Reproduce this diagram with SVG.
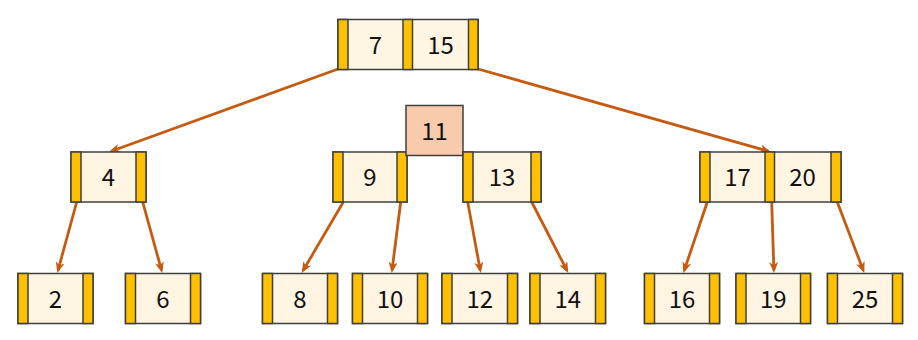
<svg xmlns="http://www.w3.org/2000/svg" width="918" height="340" viewBox="0 0 918 340">
<defs>
<style>
.box{fill:#FFF5E2;stroke:#3F3F3F;stroke-width:1.5}
.ptr{fill:#FFC000;stroke:#3F3F3F;stroke-width:1.5}
.hl{fill:#F8CBAD;stroke:#3F3F3F;stroke-width:1.5}
.edge{stroke:#C55A11;stroke-width:2.8;fill:none;marker-end:url(#ah)}
text{font-family:"Noto Sans CJK KR","Noto Sans",sans-serif;font-size:24px;fill:#111;text-anchor:middle}
</style>
<marker id="ah" markerUnits="userSpaceOnUse" markerWidth="12" markerHeight="10" refX="8" refY="4.5" orient="auto">
<path d="M0,0 L11,4.5 L0,9 L3,4.5 z" fill="#C55A11"/>
</marker>
</defs>
<rect width="918" height="340" fill="#fff"/>
<g id="connectors">
<line class="edge" x1="338" y1="69" x2="111.8" y2="151"/>
<line class="edge" x1="478" y1="69" x2="768.1" y2="151.2"/>
<line class="edge" x1="76.7" y1="202" x2="58.1" y2="270.1"/>
<line class="edge" x1="142.7" y1="202" x2="161.5" y2="270.1"/>
<line class="edge" x1="343.3" y1="202" x2="303.2" y2="270.4"/>
<line class="edge" x1="400.7" y1="202" x2="392.1" y2="270"/>
<line class="edge" x1="467.7" y1="202" x2="480.2" y2="270.1"/>
<line class="edge" x1="531.7" y1="202" x2="566.9" y2="270.3"/>
<line class="edge" x1="707.3" y1="202" x2="684.3" y2="270.2"/>
<line class="edge" x1="771.7" y1="202" x2="773.9" y2="270"/>
<line class="edge" x1="837.3" y1="202" x2="863.2" y2="270.2"/>
</g>
<g id="node-root">
<rect class="box" x="338" y="19.5" width="140" height="50"/>
<rect class="ptr" x="338" y="19.5" width="10" height="50"/>
<rect class="ptr" x="403" y="19.5" width="9.5" height="50"/>
<rect class="ptr" x="468.5" y="19.5" width="9.5" height="50"/>
<text x="375.5" y="53.5">7</text>
<text x="440.5" y="53.5">15</text>
</g>
<g id="node-4">
<rect class="box" x="71" y="152" width="75" height="50"/>
<rect class="ptr" x="71" y="152" width="10" height="50"/>
<rect class="ptr" x="136" y="152" width="10" height="50"/>
<text x="108.5" y="186">4</text>
</g>
<g id="node-9">
<rect class="box" x="333" y="152" width="74" height="50"/>
<rect class="ptr" x="333" y="152" width="10" height="50"/>
<rect class="ptr" x="397" y="152" width="10" height="50"/>
<text x="370" y="186">9</text>
</g>
<g id="node-11">
<rect class="hl" x="406" y="105.5" width="57" height="50"/>
<text x="434.5" y="139.5">11</text>
</g>
<g id="node-13">
<rect class="box" x="463" y="152" width="78" height="50"/>
<rect class="ptr" x="463" y="152" width="10" height="50"/>
<rect class="ptr" x="531" y="152" width="10" height="50"/>
<text x="502" y="186">13</text>
</g>
<g id="node-17-20">
<rect class="box" x="700" y="152" width="141" height="50"/>
<rect class="ptr" x="700" y="152" width="10" height="50"/>
<rect class="ptr" x="765" y="152" width="9.5" height="50"/>
<rect class="ptr" x="831" y="152" width="10" height="50"/>
<text x="737.5" y="186">17</text>
<text x="802.5" y="186">20</text>
</g>
<g id="leaf-2">
<rect class="box" x="18" y="273.5" width="75" height="50"/>
<rect class="ptr" x="18" y="273.5" width="10" height="50"/>
<rect class="ptr" x="83" y="273.5" width="10" height="50"/>
<text x="55.5" y="307.5">2</text>
</g>
<g id="leaf-6">
<rect class="box" x="125.5" y="273.5" width="75" height="50"/>
<rect class="ptr" x="125.5" y="273.5" width="10" height="50"/>
<rect class="ptr" x="190.5" y="273.5" width="10" height="50"/>
<text x="163" y="307.5">6</text>
</g>
<g id="leaf-8">
<rect class="box" x="262.5" y="273.5" width="75" height="50"/>
<rect class="ptr" x="262.5" y="273.5" width="10" height="50"/>
<rect class="ptr" x="327.5" y="273.5" width="10" height="50"/>
<text x="300" y="307.5">8</text>
</g>
<g id="leaf-10">
<rect class="box" x="352.5" y="273.5" width="75" height="50"/>
<rect class="ptr" x="352.5" y="273.5" width="10" height="50"/>
<rect class="ptr" x="417.5" y="273.5" width="10" height="50"/>
<text x="390" y="307.5">10</text>
</g>
<g id="leaf-12">
<rect class="box" x="442" y="273.5" width="75.5" height="50"/>
<rect class="ptr" x="442" y="273.5" width="10" height="50"/>
<rect class="ptr" x="507.5" y="273.5" width="10" height="50"/>
<text x="479.7" y="307.5">12</text>
</g>
<g id="leaf-14">
<rect class="box" x="530" y="273.5" width="75.5" height="50"/>
<rect class="ptr" x="530" y="273.5" width="10" height="50"/>
<rect class="ptr" x="595.5" y="273.5" width="10" height="50"/>
<text x="567.7" y="307.5">14</text>
</g>
<g id="leaf-16">
<rect class="box" x="644.5" y="273.5" width="75" height="50"/>
<rect class="ptr" x="644.5" y="273.5" width="10" height="50"/>
<rect class="ptr" x="709.5" y="273.5" width="10" height="50"/>
<text x="682" y="307.5">16</text>
</g>
<g id="leaf-19">
<rect class="box" x="736" y="273.5" width="74.5" height="50"/>
<rect class="ptr" x="736" y="273.5" width="10" height="50"/>
<rect class="ptr" x="800.5" y="273.5" width="10" height="50"/>
<text x="773.2" y="307.5">19</text>
</g>
<g id="leaf-25">
<rect class="box" x="827.5" y="273.5" width="75" height="50"/>
<rect class="ptr" x="827.5" y="273.5" width="10" height="50"/>
<rect class="ptr" x="892.5" y="273.5" width="10" height="50"/>
<text x="865" y="307.5">25</text>
</g>
</svg>
